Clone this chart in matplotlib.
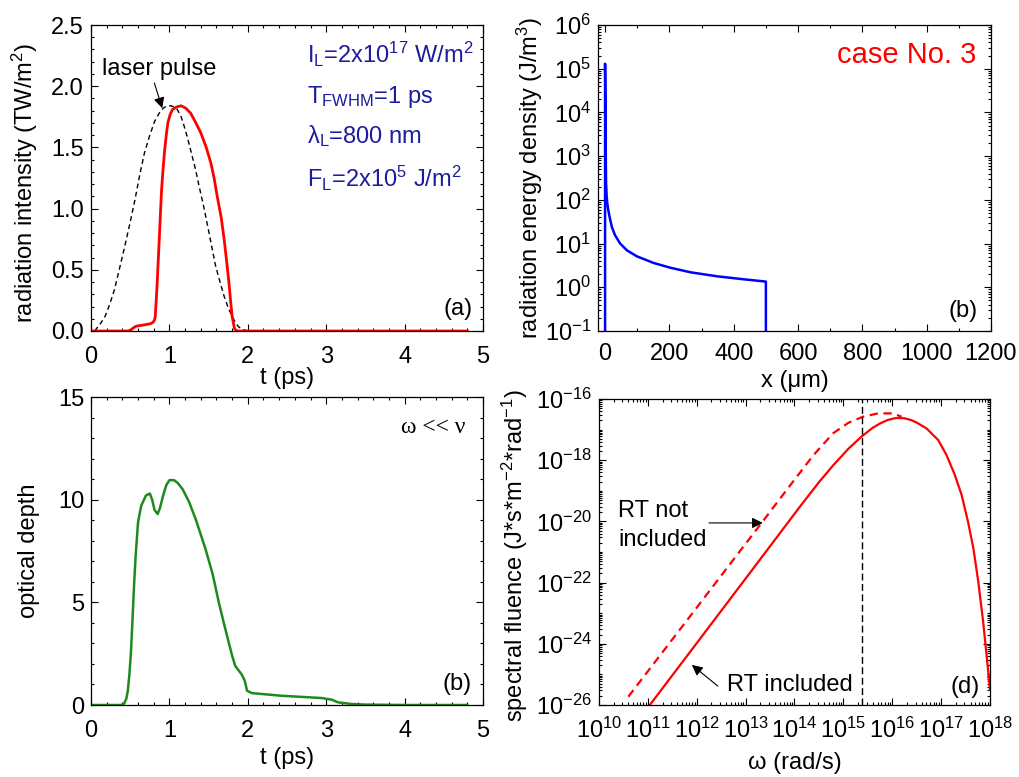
import numpy as np
import matplotlib
matplotlib.use("Agg")
import matplotlib.pyplot as plt
from matplotlib.ticker import MultipleLocator, LogLocator, FixedLocator, NullFormatter

plt.rcParams['font.family'] = ['Liberation Sans', 'DejaVu Sans']
plt.rcParams['mathtext.fontset'] = 'custom'
plt.rcParams['mathtext.rm'] = 'Liberation Sans'
plt.rcParams['mathtext.it'] = 'Liberation Sans:italic'
plt.rcParams['mathtext.bf'] = 'Liberation Sans:bold'
plt.rcParams['axes.unicode_minus'] = False
plt.rcParams['lines.scale_dashes'] = False

FS = 17

# (a) radiation intensity vs time
t_laser = [0.05, 0.07, 0.12, 0.18, 0.24, 0.3, 0.36, 0.43, 0.5, 0.56, 0.62, 0.68, 0.75, 0.81, 0.87, 0.92, 0.97,
           1.02, 1.06, 1.1, 1.15, 1.19, 1.23, 1.27, 1.33, 1.38, 1.44, 1.49, 1.54, 1.59, 1.65, 1.7, 1.75, 1.8,
           1.85, 1.89, 1.95, 2.0]
I_laser = [0.0, 0.02, 0.06, 0.12, 0.22, 0.34, 0.5, 0.69, 0.89, 1.07, 1.27, 1.45, 1.6, 1.71, 1.78, 1.82, 1.84,
           1.84, 1.83, 1.81, 1.75, 1.67, 1.58, 1.48, 1.33, 1.18, 1.01, 0.85, 0.69, 0.53, 0.39, 0.28, 0.19, 0.12,
           0.06, 0.03, 0.01, 0.0]
t_rad = [0.0, 0.47, 0.51, 0.55, 0.58, 0.68, 0.76, 0.79, 0.81, 0.82, 0.84, 0.855, 0.87, 0.885, 0.9, 0.92, 0.94,
         0.96, 0.98, 1.01, 1.04, 1.09, 1.15, 1.21, 1.27, 1.33, 1.4, 1.47, 1.53, 1.57, 1.61, 1.66, 1.7, 1.73,
         1.76, 1.78, 1.8, 1.83, 1.86, 4.8]
I_rad = [0.0, 0.0, 0.01, 0.03, 0.04, 0.05, 0.06, 0.07, 0.09, 0.12, 0.34, 0.54, 0.74, 0.95, 1.15, 1.33, 1.48,
         1.6, 1.7, 1.77, 1.81, 1.83, 1.84, 1.82, 1.78, 1.71, 1.62, 1.5, 1.37, 1.25, 1.1, 0.93, 0.74, 0.57,
         0.39, 0.25, 0.12, 0.02, 0.0, 0.0]

# (b) radiation energy density vs depth
x_um = [0, 0, 1, 2, 3, 5, 7, 10, 14, 21, 31, 47, 68, 99, 151, 203, 266, 349, 432, 500, 500]
U_rad = [0.1, 1.3e5, 2.0e4, 1.5e3, 250, 120, 83, 58, 41, 24, 15.5, 10, 7.0, 5.1, 3.6, 2.8, 2.2, 1.78, 1.52,
         1.35, 0.1]

# (c) optical depth vs time
t_od = [0, 0.38, 0.42, 0.45, 0.47, 0.49, 0.51, 0.53, 0.55, 0.57, 0.6, 0.64, 0.7, 0.75, 0.78, 0.81, 0.85,
        0.88, 0.92, 0.96, 1.0, 1.06, 1.11, 1.17, 1.25, 1.34, 1.46, 1.55, 1.63, 1.7, 1.76, 1.8, 1.84, 1.92,
        1.96, 1.99, 2.05, 2.43, 2.94, 3.07, 3.15, 3.32, 3.5, 4.0, 4.8]
od = [0, 0, 0.05, 0.3, 0.7, 1.5, 2.6, 4.2, 5.9, 7.3, 8.9, 9.7, 10.2, 10.3, 10.0, 9.5, 9.3, 9.6, 10.2, 10.7,
      10.95, 10.95, 10.8, 10.5, 9.9, 9.0, 7.6, 6.4, 5.0, 3.9, 3.0, 2.4, 1.9, 1.5, 1.2, 0.7, 0.58, 0.45, 0.34,
      0.26, 0.13, 0.05, 0.02, 0.0, 0.0]

# (d) spectral fluence, log10 values
logw_rt = [11.04, 12.07, 13.16, 14.11, 14.5, 14.79, 15.1, 15.37, 15.6, 15.75, 15.9, 16.02, 16.1, 16.25,
           16.39, 16.5, 16.70, 16.94, 17.11, 17.28, 17.42, 17.55, 17.66, 17.76, 17.86, 17.93, 18.0]
logF_rt = [-26.0, -23.83, -21.53, -19.52, -18.72, -18.17, -17.63, -17.23, -16.94, -16.80, -16.69, -16.64,
           -16.62, -16.63, -16.69, -16.77, -16.96, -17.34, -17.83, -18.48, -19.14, -20.01, -20.88, -21.97,
           -23.28, -24.37, -25.5]
logw_nort = [10.60, 11.72, 12.75, 13.36, 13.84, 14.38, 14.79, 15.1, 15.40, 15.71, 16.02, 16.19]
logF_nort = [-25.73, -23.40, -21.25, -19.98, -18.97, -17.85, -17.12, -16.78, -16.58, -16.47, -16.47, -16.58]
w_laser = 2.36e15

fig = plt.figure(figsize=(10.19, 7.77), dpi=100)
W, H = 1019, 777


def px_axes(l, t, r, b):
    return fig.add_axes([l / W, 1 - b / H, (r - l) / W, (b - t) / H])


def style(ax, xpad=9):
    ax.tick_params(which='both', direction='in', top=True, right=True, labelsize=FS, width=0.8)
    ax.tick_params(which='major', length=5)
    ax.tick_params(which='minor', length=2.5)
    ax.tick_params(axis='x', pad=xpad)
    ax.tick_params(axis='y', pad=5)
    for s in ax.spines.values():
        s.set_linewidth(0.9)


# panel (a)
ax1 = px_axes(91, 25, 483, 331)
ax1.plot(t_laser, I_laser, color='k', lw=1.0, ls=(0, (3.5, 2.5)))
ax1.plot(t_rad, I_rad, color='#ff0000', lw=2.0)
ax1.set_xlim(0, 5)
ax1.set_ylim(0, 2.5)
ax1.xaxis.set_major_locator(MultipleLocator(1))
ax1.xaxis.set_minor_locator(MultipleLocator(0.2))
ax1.yaxis.set_major_locator(MultipleLocator(0.5))
ax1.yaxis.set_minor_locator(MultipleLocator(0.1))
ax1.yaxis.set_major_formatter(lambda v, p: '%.1f' % v)
style(ax1, xpad=11)
ax1.set_xlabel('t (ps)', fontsize=FS)
ax1.set_ylabel('radiation intensity (TW/m$^{2}$)', fontsize=FS)
ax1.xaxis.set_label_coords(0.5, -0.118)
ax1.yaxis.set_label_coords(-0.13, 0.485)
ax1.annotate('laser pulse', xy=(0.909, 1.82), xytext=(0.14, 2.09), fontsize=FS, va='baseline', ha='left',
             arrowprops=dict(arrowstyle='-|>', color='k', lw=0.8, mutation_scale=16,
                             shrinkA=0, shrinkB=0, relpos=(0.45, 0)))
info_col = '#1c1c9c'
ax1.text(0.551, 0.875, 'I$_{\\mathrm{L}}$=2x10$^{17}$ W/m$^{2}$', transform=ax1.transAxes, fontsize=FS,
         color=info_col, va='baseline')
ax1.text(0.551, 0.744, 'T$_{\\mathrm{FWHM}}$=1 ps', transform=ax1.transAxes, fontsize=FS,
         color=info_col, va='baseline')
ax1.text(0.551, 0.615, 'λ$_{\\mathrm{L}}$=800 nm', transform=ax1.transAxes, fontsize=FS,
         color=info_col, va='baseline')
ax1.text(0.551, 0.471, 'F$_{\\mathrm{L}}$=2x10$^{5}$ J/m$^{2}$', transform=ax1.transAxes, fontsize=FS,
         color=info_col, va='baseline')
ax1.text(0.974, 0.0735, '(a)', transform=ax1.transAxes, fontsize=FS, ha='right', va='center')

# panel (b) top right
ax2 = px_axes(598, 25, 991, 331)
ax2.plot(x_um, U_rad, color='#0000ff', lw=1.8)
ax2.set_yscale('log')
ax2.set_xlim(-22, 1200)
ax2.set_ylim(0.1, 1e6)
ax2.xaxis.set_major_locator(MultipleLocator(200))
ax2.xaxis.set_minor_locator(MultipleLocator(100))
ax2.yaxis.set_major_locator(LogLocator(base=10, numticks=20))
ax2.yaxis.set_minor_locator(LogLocator(base=10, subs=np.arange(2, 10), numticks=20))
ax2.yaxis.set_minor_formatter(NullFormatter())
style(ax2)
ax2.set_xlabel('x (μm)', fontsize=FS)
ax2.set_ylabel('radiation energy density (J/m$^{3}$)', fontsize=FS)
ax2.xaxis.set_label_coords(0.5, -0.127)
ax2.yaxis.set_label_coords(-0.135, 0.5)
ax2.text(0.964, 0.875, 'case No. 3', transform=ax2.transAxes, fontsize=21, color='#ff0000',
         ha='right', va='baseline')
ax2.text(0.967, 0.065, '(b)', transform=ax2.transAxes, fontsize=FS, ha='right', va='center')

# panel (c) bottom left
ax3 = px_axes(91, 397, 483, 705)
ax3.plot(t_od, od, color='#1e8a1e', lw=1.8)
ax3.set_xlim(0, 5)
ax3.set_ylim(0, 15)
ax3.xaxis.set_major_locator(MultipleLocator(1))
ax3.xaxis.set_minor_locator(MultipleLocator(0.2))
ax3.yaxis.set_major_locator(MultipleLocator(5))
ax3.yaxis.set_minor_locator(MultipleLocator(1))
style(ax3, xpad=11)
ax3.set_xlabel('t (ps)', fontsize=FS)
ax3.set_ylabel('optical depth', fontsize=FS)
ax3.xaxis.set_label_coords(0.5, -0.136)
ax3.yaxis.set_label_coords(-0.13, 0.5)
ax3.text(0.954, 0.9, 'ω << ν', transform=ax3.transAxes, fontsize=FS, ha='right', va='center',
         family=['Liberation Serif', 'DejaVu Serif'])
ax3.text(0.972, 0.068, '(b)', transform=ax3.transAxes, fontsize=FS, ha='right', va='center')

# panel (d) bottom right
ax4 = px_axes(599, 399, 990, 705)
ax4.plot(10 ** np.array(logw_nort), 10 ** np.array(logF_nort), color='#ff0000', lw=1.6, ls=(0, (6, 4)))
ax4.plot(10 ** np.array(logw_rt), 10 ** np.array(logF_rt), color='#ff0000', lw=1.6)
ax4.axvline(w_laser, color='k', lw=1.0, ls=(0, (5, 2.5)))
ax4.set_xscale('log')
ax4.set_yscale('log')
ax4.set_xlim(1e10, 1e18)
ax4.set_ylim(1e-26, 1e-16)
ax4.xaxis.set_major_locator(LogLocator(base=10, numticks=20))
ax4.xaxis.set_minor_locator(LogLocator(base=10, subs=np.arange(2, 10), numticks=20))
ax4.xaxis.set_minor_formatter(NullFormatter())
ax4.yaxis.set_major_locator(FixedLocator([10.0 ** e for e in range(-26, -15, 2)]))
ax4.yaxis.set_minor_locator(LogLocator(base=10, subs=np.arange(1, 10), numticks=30))
ax4.yaxis.set_minor_formatter(NullFormatter())
style(ax4)
ax4.set_xlabel('ω (rad/s)', fontsize=FS)
ax4.set_ylabel('spectral fluence (J*s*m$^{-2}$*rad$^{-1}$)', fontsize=FS)
ax4.xaxis.set_label_coords(0.5, -0.154)
ax4.yaxis.set_label_coords(-0.176, 0.487)
ax4.text(0.049, 0.615, 'RT not', transform=ax4.transAxes, fontsize=FS, va='baseline')
ax4.text(0.049, 0.52, 'included', transform=ax4.transAxes, fontsize=FS, va='baseline')
ax4.annotate('', xy=(10 ** 13.35, 10 ** -20.05), xytext=(10 ** 12.25, 10 ** -20.05),
             arrowprops=dict(arrowstyle='-|>', color='k', lw=0.8, mutation_scale=16, shrinkA=0, shrinkB=0))
ax4.text(0.327, 0.065, 'RT included', transform=ax4.transAxes, fontsize=FS, va='center')
ax4.annotate('', xy=(10 ** 11.90, 10 ** -24.69), xytext=(10 ** 12.43, 10 ** -25.38),
             arrowprops=dict(arrowstyle='-|>', color='k', lw=0.8, mutation_scale=16, shrinkA=0, shrinkB=0))
ax4.text(0.974, 0.059, '(d)', transform=ax4.transAxes, fontsize=FS, ha='right', va='center')

fig.savefig('out.png', dpi=100)
